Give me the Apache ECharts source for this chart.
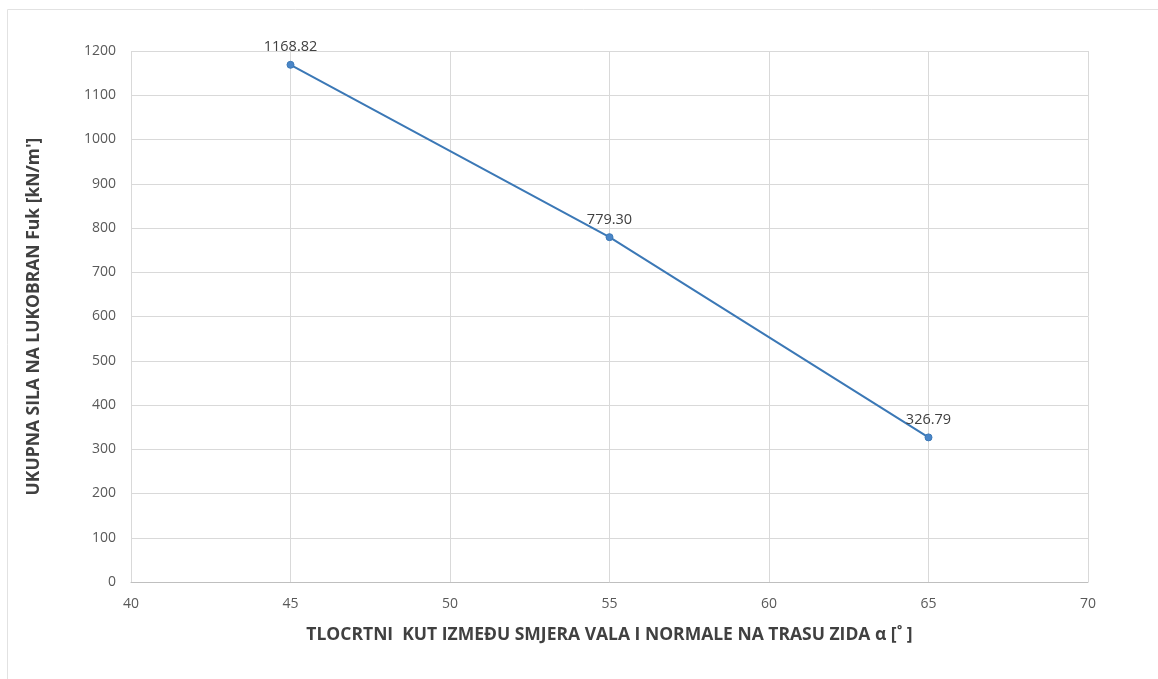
<!DOCTYPE html>
<html><head><meta charset="utf-8">
<script src="https://cdn.jsdelivr.net/npm/echarts@6/dist/echarts.min.js"></script>
<style>html,body{margin:0;padding:0;background:#fff}#c{width:1158px;height:679px}</style>
</head><body><div id="c"></div>
<script>
const angles = [45, 55, 65];
const forces = [1168.82, 779.30, 326.79];
const xName = 'TLOCRTNI  KUT IZMEĐU SMJERA VALA I NORMALE NA TRASU ZIDA α [˚ ]';
const yName = 'UKUPNA SILA NA LUKOBRAN Fuk [kN/m\']';
const chart = echarts.init(document.getElementById('c'));
const font = '"Open Sans", "Liberation Sans", sans-serif';
chart.setOption({
  animation: false,
  textStyle: {fontFamily: font},
  graphic: [{type:'rect', shape:{x:7.5, y:9.5, width:1200, height:700}, style:{fill:'none', stroke:'#e2e2e2', lineWidth:1}, silent:true}],
  grid: {left: 131, right: 70, top: 51, bottom: 97},
  xAxis: {
    type: 'value', min: 40, max: 70, interval: 5,
    name: xName, nameLocation: 'middle', nameGap: 44,
    nameTextStyle: {fontSize: 17.5, fontWeight: 'bold', color: '#404040', fontFamily: font},
    axisLine: {show: true, lineStyle: {color: '#bfbfbf', width: 1}},
    axisTick: {show: false},
    axisLabel: {fontSize: 14, color: '#595959', margin: 15},
    splitLine: {show: true, lineStyle: {color: '#d9d9d9', width: 1}}
  },
  yAxis: {
    type: 'value', min: 0, max: 1200, interval: 100,
    name: yName, nameLocation: 'middle', nameGap: 88, nameRotate: 90,
    nameTextStyle: {fontSize: 17.5, fontWeight: 'bold', color: '#404040', fontFamily: font},
    axisLine: {show: false},
    axisTick: {show: false},
    axisLabel: {fontSize: 14, color: '#595959', margin: 15, formatter: v => String(v)},
    splitLine: {show: true, lineStyle: {color: '#d9d9d9', width: 1}}
  },
  series: [{
    type: 'line',
    data: angles.map((a, i) => [a, forces[i]]),
    symbol: 'circle', symbolSize: 7,
    lineStyle: {color: '#3b78b6', width: 2},
    itemStyle: {color: '#4a86c8', borderColor: '#3b78b6', borderWidth: 1},
    label: {show: true, position: 'top', distance: 6, fontSize: 14.5, color: '#404040',
      formatter: p => p.value[1].toFixed(2)}
  }]
});
</script></body></html>
